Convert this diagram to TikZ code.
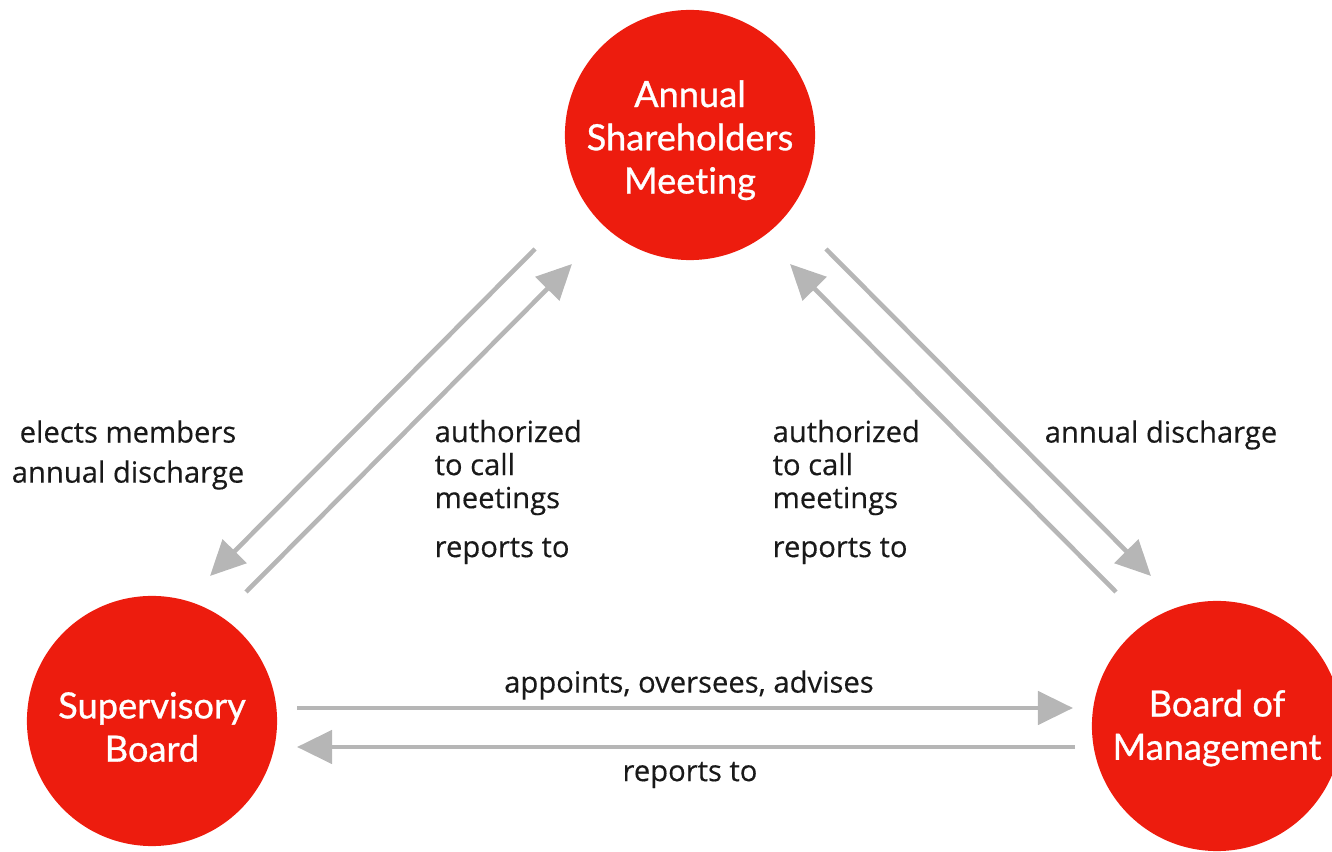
\documentclass[tikz,border=0pt]{standalone}
\usepackage{fontspec}
\setmainfont{Open Sans}
\newfontfamily\circfont[FakeBold=0.8, Ligatures=NoCommon]{Lato}
\newfontfamily\lblfont[FakeBold=0.35]{Open Sans}
\usetikzlibrary{arrows.meta}
\definecolor{boardred}{RGB}{237,28,14}
\definecolor{flowgray}{RGB}{182,182,182}

\begin{document}
\begin{tikzpicture}[x=0.01cm, y=-0.01cm,
  body/.style={circle, fill=boardred, minimum size=2.5cm, inner sep=0pt},
  bodytext/.style={text=white, inner sep=0pt, align=center,
    font=\circfont\fontsize{10.3}{12.3}\selectfont},
  flow/.style={draw=flowgray, line width=1.3pt, -{Triangle[length=0.35cm, width=0.33cm]}},
  lbl/.style={inner sep=0pt, text=black!90, font=\lblfont\fontsize{8.3}{9.4}\selectfont}]
\useasboundingbox (0,0) rectangle (1332,852);

\node[body] (asm) at (690,135) {};
\node[body] (sb) at (152,721) {};
\node[body] (bm) at (1217,726) {};
\node[bodytext] (asmT) at ([yshift=-1.5pt]asm.center) {Annual\\Shareholders\\Meeting};
\node[bodytext] (sbT) at ([yshift=-1.7pt]sb.center) {Supervisory\\Board};
\node[bodytext] (bmT) at ([yshift=-0.6pt]bm.center) {Board of\\Management};

\coordinate (elS) at (535,249);
\coordinate (elE) at (210,576);
\coordinate (upS) at (246,592);
\coordinate (upE) at (572,264);
\coordinate (rdS) at (826,249);
\coordinate (rdE) at (1151,576);
\coordinate (ruS) at (1116,592);
\coordinate (ruE) at (790,264);
\coordinate (apS) at (297,708);
\coordinate (apE) at (1073,708);
\coordinate (rpS) at (1075,747);
\coordinate (rpE) at (297,747);

\path (elS) edge[flow] (elE);
\path (upS) edge[flow] (upE);
\path (rdS) edge[flow] (rdE);
\path (ruS) edge[flow] (ruE);
\path (apS) edge[flow] (apE);
\path (rpS) edge[flow] (rpE);

\node[lbl, align=center] (elects) at (128,455) {elects members\\[2pt]annual discharge};
\node[lbl, align=left, anchor=west] (callL) at (434,492) {authorized\\to call\\meetings\\[4.5pt]reports to};
\node[lbl, align=left, anchor=west] (callR) at (772,492) {authorized\\to call\\meetings\\[4.5pt]reports to};
\node[lbl] (discharge) at (1161,435) {annual discharge};
\node[lbl] (appoints) at (689,685) {appoints, oversees, advises};
\node[lbl] (reports) at (690,775) {reports to};
\end{tikzpicture}
\end{document}
